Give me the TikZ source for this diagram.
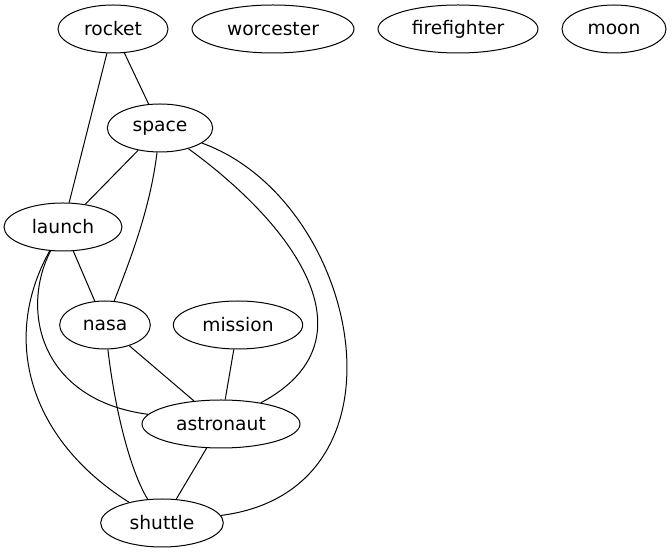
\documentclass[tikz,border=0pt]{standalone}
\usepackage{fontspec}
\setmainfont{DejaVu Sans}
\usetikzlibrary{shapes.geometric}
\tikzset{
	word/.style={
			ellipse, draw, line width=0.75pt, inner sep=0pt,
			minimum height=36pt, font=\fontsize{14}{16}\selectfont
		}
}
\begin{document}
\begin{tikzpicture}[x=0.75pt, y=-0.75pt, line width=0.75pt]
        \useasboundingbox (0,0) rectangle (672,555);
        \node [word, minimum width=82.5pt] (rocket) at (113, 29) {rocket};
        \node [word, minimum width=121.5pt] (worcester) at (273, 29) {worcester};
        \node [word, minimum width=120pt] (firefighter) at (458, 29) {firefighter};
        \node [word, minimum width=78pt] (moon) at (614, 29) {moon};
        \node [word, minimum width=79pt] (space) at (160, 128) {space};
        \node [word, minimum width=88.5pt] (launch) at (63, 227) {launch};
        \node [word, minimum width=68pt] (nasa) at (105, 325) {nasa};
        \node [word, minimum width=97pt] (mission) at (238, 325) {mission};
        \node [word, minimum width=118.5pt] (astronaut) at (221, 424) {astronaut};
        \node [word, minimum width=92pt] (shuttle) at (162, 523) {shuttle};
        \draw (rocket) -- (space);
        \draw (rocket) -- (launch);
        \draw (space) -- (launch);
        \draw (space) .. controls (150, 210) and (130, 260) .. (nasa);
        \draw (space) .. controls (300, 230) and (375, 342) .. (astronaut);
        \draw (space) .. controls (360, 200) and (420, 490) .. (shuttle);
        \draw (launch) -- (nasa);
        \draw (launch) .. controls (20, 310) and (40, 400) .. (astronaut);
        \draw (launch) .. controls (0, 340) and (30, 440) .. (shuttle);
        \draw (nasa) -- (astronaut);
        \draw (nasa) .. controls (115, 410) and (130, 470) .. (shuttle);
        \draw (mission) -- (astronaut);
        \draw (astronaut) -- (shuttle);
    \end{tikzpicture}
\end{document}
